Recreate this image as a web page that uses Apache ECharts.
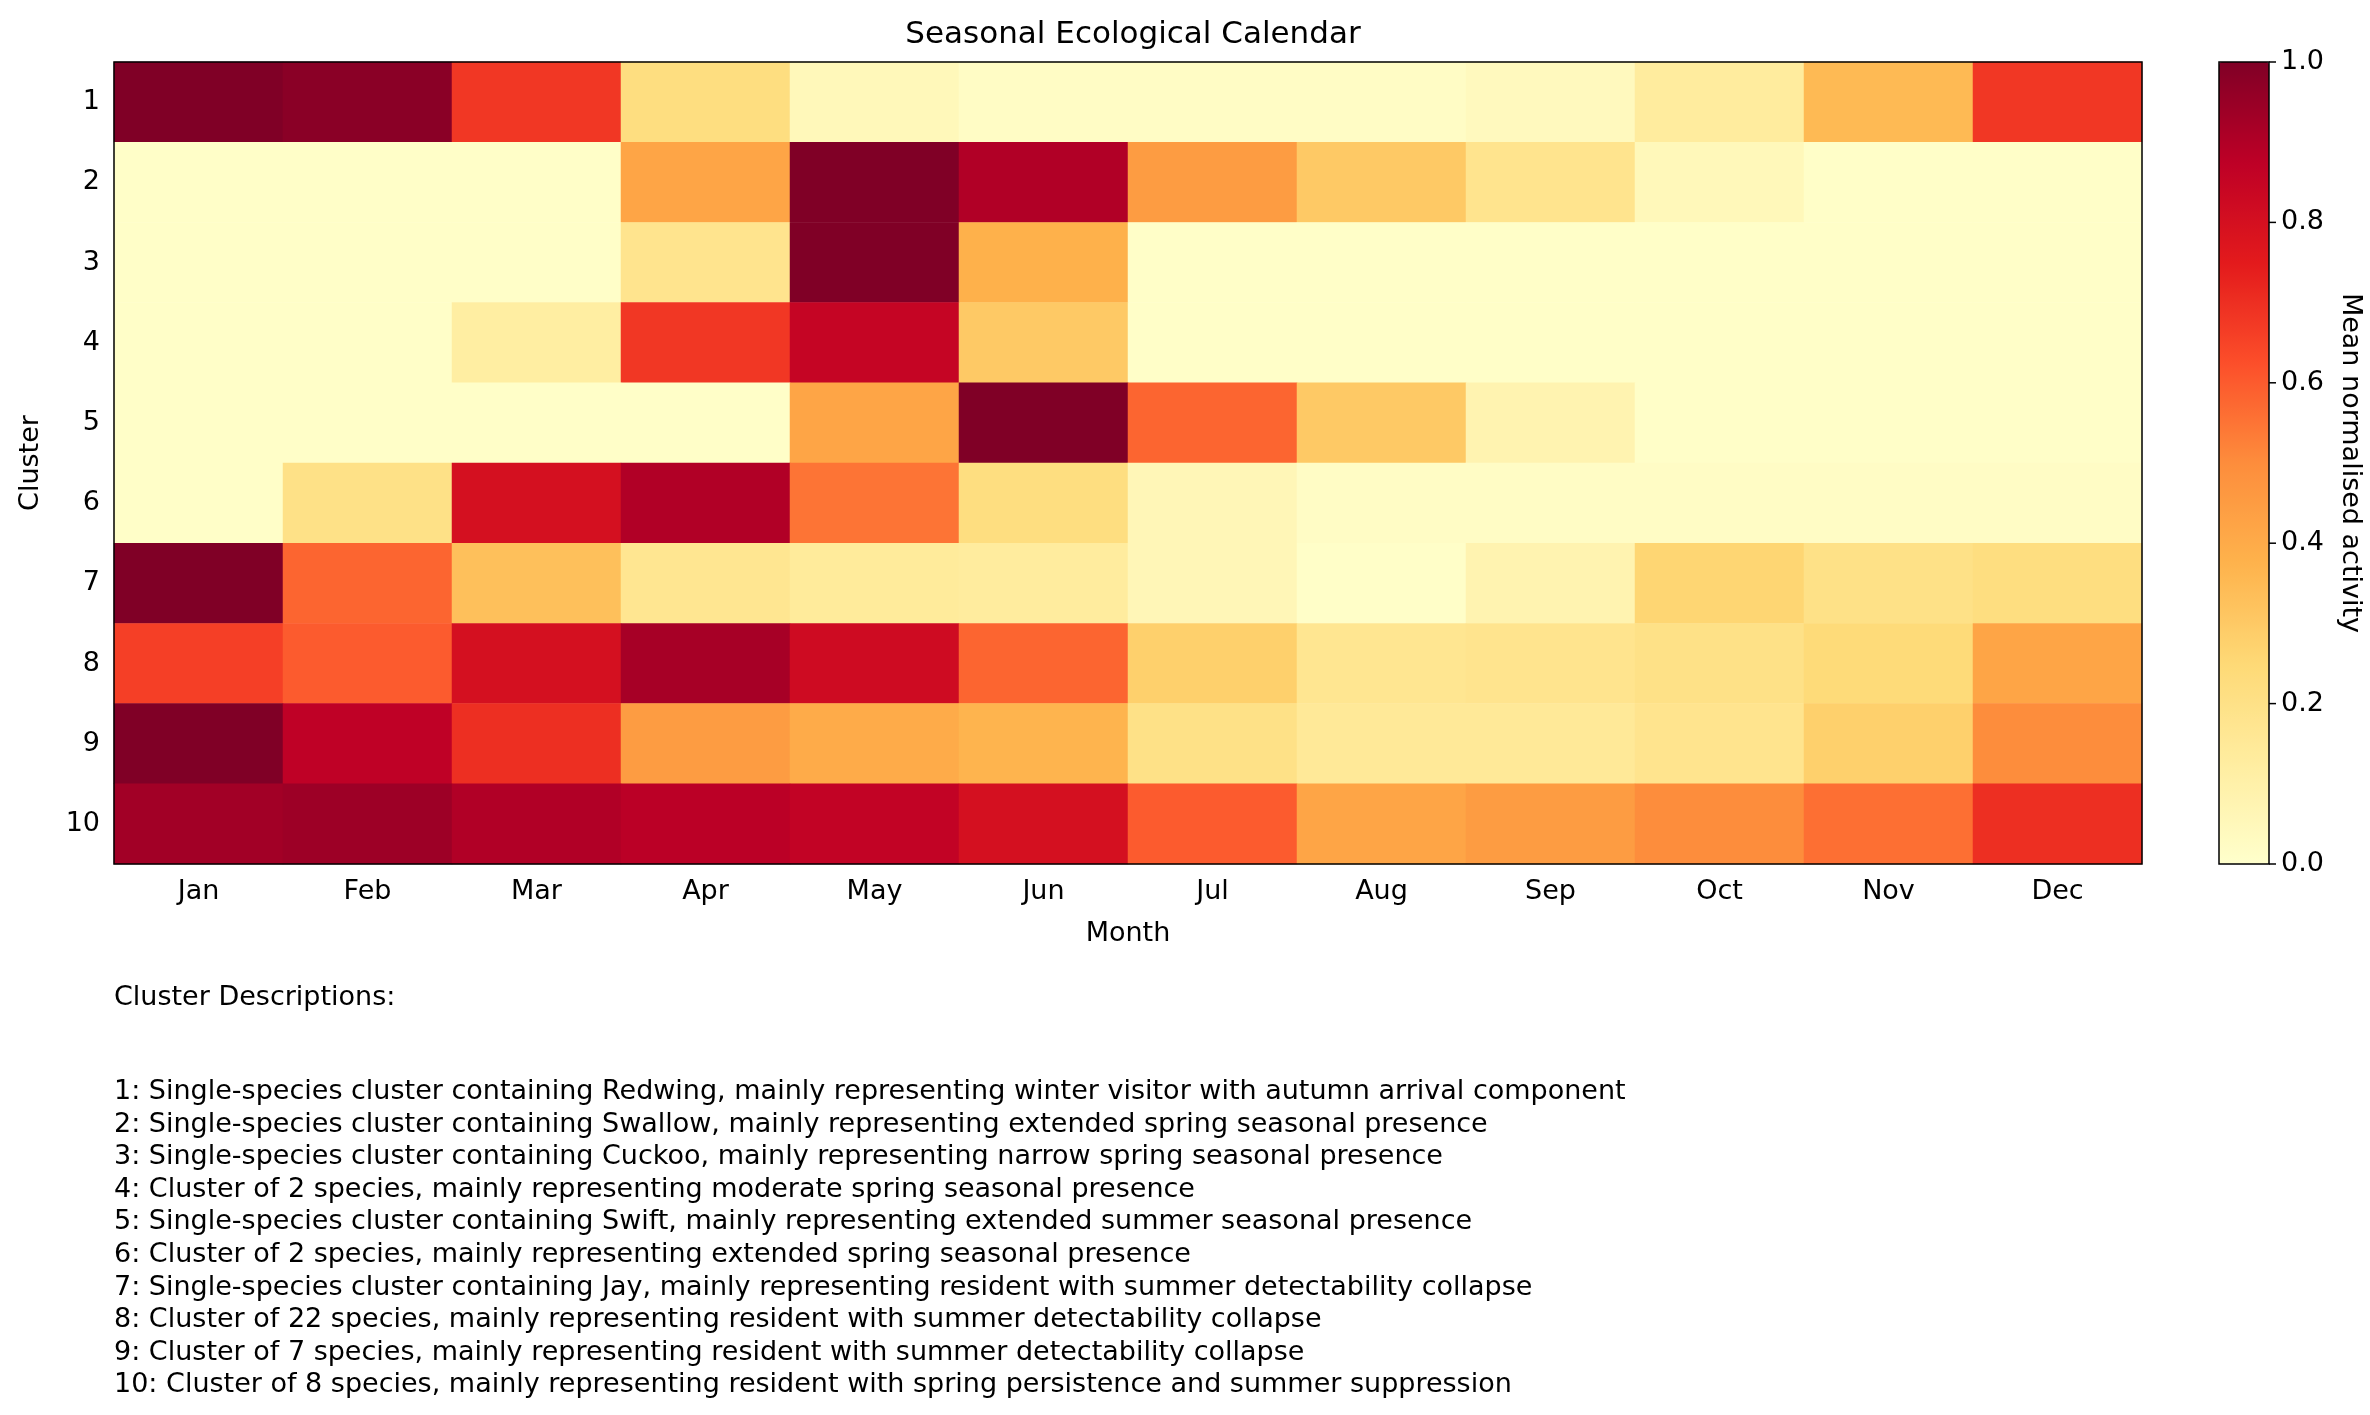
<!DOCTYPE html>
<html>
<head>
<meta charset="utf-8">
<script src="https://cdn.jsdelivr.net/npm/echarts@6/dist/echarts.min.js"></script>
<style>html,body{margin:0;padding:0;background:#fff}#main{width:2370px;height:1415px}</style>
</head>
<body>
<div id="main"></div>
<script>
var months = ['Jan','Feb','Mar','Apr','May','Jun','Jul','Aug','Sep','Oct','Nov','Dec'];
var clusters = ['1','2','3','4','5','6','7','8','9','10'];
var c1 = [1.0,0.98,0.68,0.22,0.05,0.02,0.02,0.02,0.04,0.13,0.35,0.68];
var c2 = [0.01,0.01,0.01,0.42,1.0,0.9,0.45,0.3,0.18,0.05,0.01,0.01];
var c3 = [0.01,0.01,0.01,0.18,1.0,0.38,0.01,0.01,0.01,0.01,0.01,0.01];
var c4 = [0.01,0.01,0.12,0.68,0.85,0.3,0.01,0.01,0.01,0.01,0.01,0.01];
var c5 = [0.01,0.01,0.01,0.01,0.42,1.0,0.58,0.3,0.08,0.01,0.01,0.01];
var c6 = [0.01,0.2,0.8,0.9,0.55,0.22,0.06,0.02,0.02,0.02,0.02,0.02];
var c7 = [1.0,0.58,0.33,0.17,0.14,0.13,0.06,0.01,0.08,0.26,0.2,0.22];
var c8 = [0.66,0.6,0.8,0.92,0.82,0.58,0.28,0.17,0.18,0.2,0.24,0.42];
var c9 = [1.0,0.87,0.7,0.45,0.4,0.37,0.2,0.15,0.15,0.18,0.28,0.5];
var c10 = [0.93,0.94,0.9,0.88,0.86,0.8,0.6,0.42,0.45,0.5,0.56,0.7];
var rows = [c1,c2,c3,c4,c5,c6,c7,c8,c9,c10];
var cbarTicks = [0, 0.2, 0.4, 0.6, 0.8, 1.0];
var descriptions = [
  '1: Single-species cluster containing Redwing, mainly representing winter visitor with autumn arrival component',
  '2: Single-species cluster containing Swallow, mainly representing extended spring seasonal presence',
  '3: Single-species cluster containing Cuckoo, mainly representing narrow spring seasonal presence',
  '4: Cluster of 2 species, mainly representing moderate spring seasonal presence',
  '5: Single-species cluster containing Swift, mainly representing extended summer seasonal presence',
  '6: Cluster of 2 species, mainly representing extended spring seasonal presence',
  '7: Single-species cluster containing Jay, mainly representing resident with summer detectability collapse',
  '8: Cluster of 22 species, mainly representing resident with summer detectability collapse',
  '9: Cluster of 7 species, mainly representing resident with summer detectability collapse',
  '10: Cluster of 8 species, mainly representing resident with spring persistence and summer suppression'
];

var data = [];
rows.forEach(function (r, i) {
  r.forEach(function (v, j) { data.push([j, i, v]); });
});

var font = 'DejaVu Sans';
var fs = 27;
var G = {left: 114, top: 62, width: 2028, height: 802};
var CB = {x: 2219, w: 50};
var graphics = [
  {type: 'rect', silent: true, z: 100, shape: {x: G.left, y: G.top, width: G.width, height: G.height},
   style: {fill: 'none', stroke: '#000', lineWidth: 1.5}},
  {type: 'rect', silent: true, z: 100, shape: {x: CB.x, y: G.top, width: CB.w, height: G.height},
   style: {fill: 'none', stroke: '#000', lineWidth: 1.5}},
  {type: 'text', x: 2350, y: G.top + G.height / 2, rotation: -Math.PI / 2,
   style: {text: 'Mean normalised activity', font: fs + 'px ' + font, fill: '#000', align: 'center', verticalAlign: 'middle'}},
  {type: 'text', x: 114, y: 998,
   style: {text: 'Cluster Descriptions:', font: fs + 'px ' + font, fill: '#000', verticalAlign: 'middle'}}
];
descriptions.forEach(function (d, i) {
  graphics.push({type: 'text', x: 114, y: 1092 + i * 32.6,
    style: {text: d, font: fs + 'px ' + font, fill: '#000', verticalAlign: 'middle'}});
});
cbarTicks.forEach(function (t) {
  var y = G.top + G.height * (1 - t);
  graphics.push({type: 'line', silent: true, shape: {x1: CB.x + CB.w, y1: y, x2: CB.x + CB.w + 7, y2: y},
    style: {stroke: '#000', lineWidth: 1.5}});
  graphics.push({type: 'text', x: CB.x + CB.w + 12, y: y,
    style: {text: t.toFixed(1), font: fs + 'px ' + font, fill: '#000', verticalAlign: 'middle'}});
});

var chart = echarts.init(document.getElementById('main'));
chart.setOption({
  backgroundColor: '#fff',
  animation: false,
  textStyle: {fontFamily: font},
  title: {text: 'Seasonal Ecological Calendar', left: G.left + G.width / 2, top: 14, textAlign: 'center',
    textStyle: {fontSize: 31, fontWeight: 'normal', color: '#000', fontFamily: font}},
  grid: G,
  xAxis: {type: 'category', data: months, name: 'Month', nameLocation: 'middle', nameGap: 56,
    nameTextStyle: {fontSize: fs, color: '#000'},
    axisLine: {show: false}, axisTick: {alignWithLabel: true, length: 7, lineStyle: {color: '#000'}},
    axisLabel: {fontSize: fs, color: '#000', margin: 14}, splitArea: {show: false}},
  yAxis: {type: 'category', data: clusters, inverse: true, name: 'Cluster', nameLocation: 'middle', nameGap: 70,
    nameTextStyle: {fontSize: fs, color: '#000'},
    axisLine: {show: false}, axisTick: {alignWithLabel: true, length: 7, lineStyle: {color: '#000'}},
    axisLabel: {fontSize: fs, color: '#000', margin: 14}},
  visualMap: {type: 'continuous', min: 0, max: 1, calculable: false, orient: 'vertical', padding: 0,
    left: CB.x, top: G.top, itemWidth: CB.w, itemHeight: G.height, text: null, showLabel: false,
    inRange: {color: ['#ffffcc','#ffeda0','#fed976','#feb24c','#fd8d3c','#fc4e2a','#e31a1c','#bd0026','#800026']}},
  graphic: graphics,
  series: [
    {type: 'heatmap', data: data, itemStyle: {borderWidth: 0}, emphasis: {disabled: true}}
  ]
});
</script>
</body>
</html>
